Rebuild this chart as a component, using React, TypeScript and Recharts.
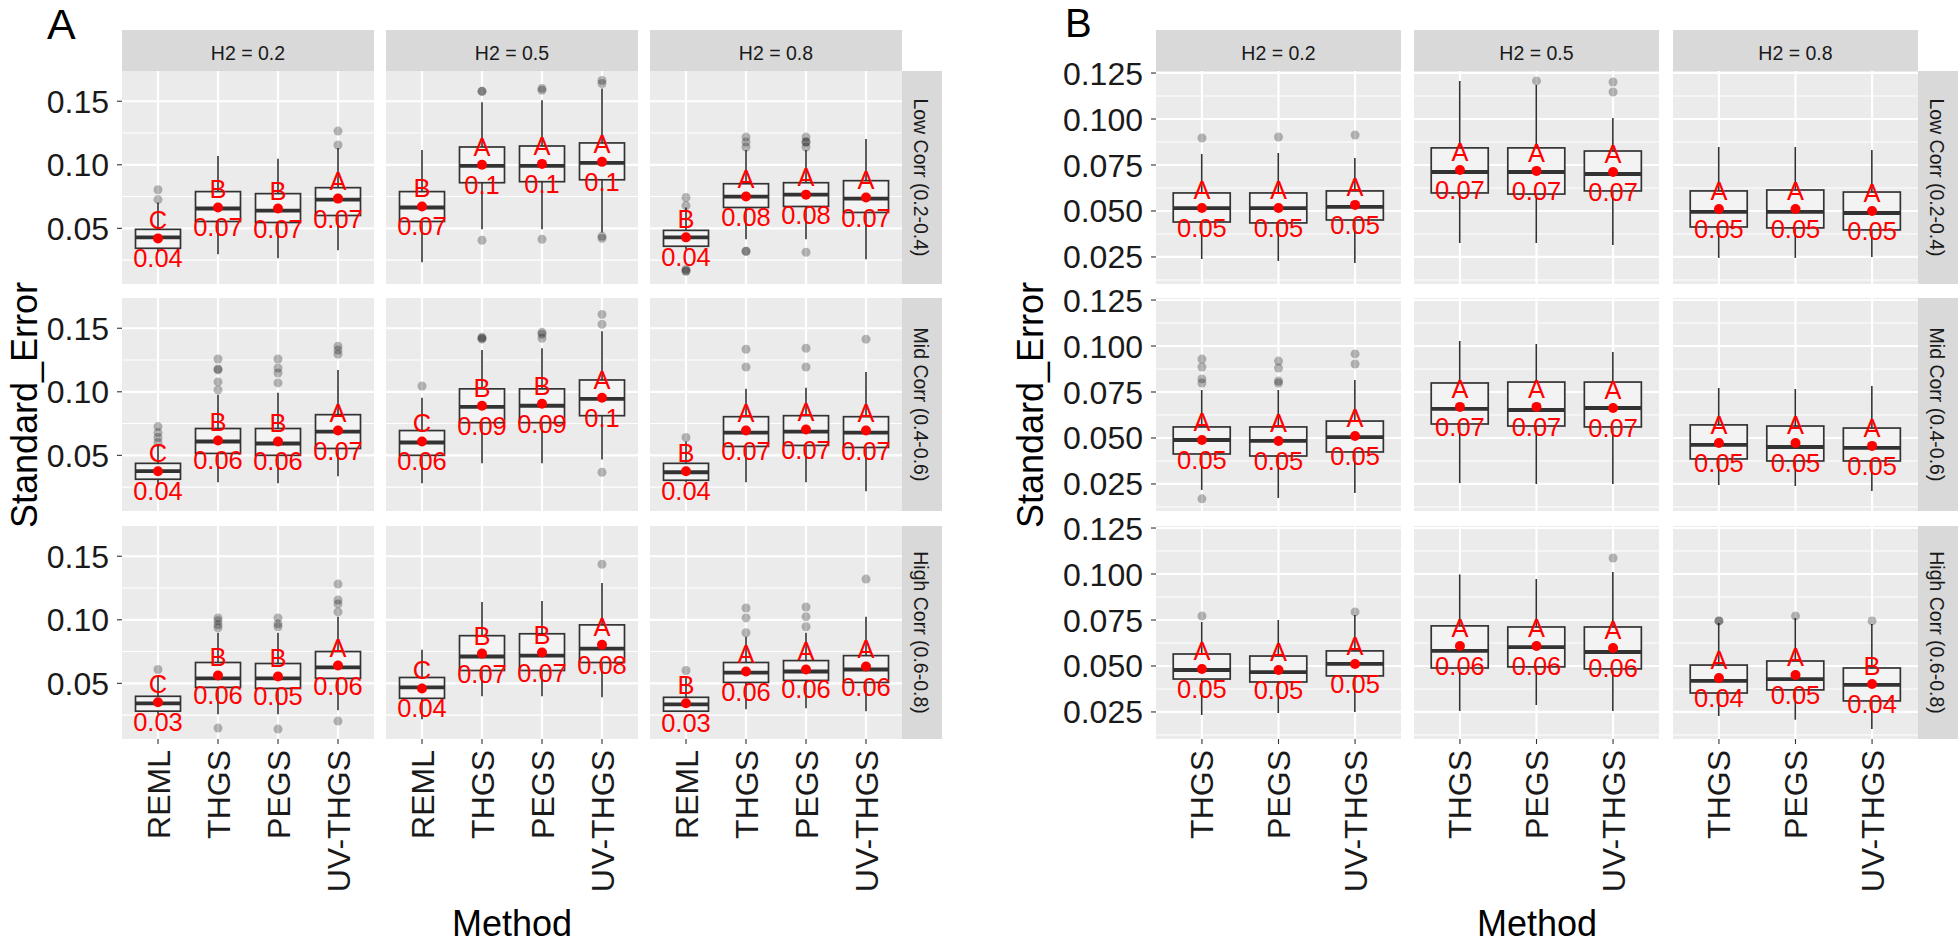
import React from 'react';
import {
  Bar,
  CartesianGrid,
  ComposedChart,
  ReferenceLine,
  Scatter,
  XAxis,
  YAxis
} from 'recharts';

const FONT = '"Liberation Sans", Arial, Helvetica, sans-serif';

// facets
const methodsA = ['REML', 'THGS', 'PEGS', 'UV-THGS'];
const methodsB = ['THGS', 'PEGS', 'UV-THGS'];
const heritability = ['H2 = 0.2', 'H2 = 0.5', 'H2 = 0.8'];
const correlation = ['Low Corr (0.2-0.4)', 'Mid Corr (0.4-0.6)', 'High Corr (0.6-0.8)'];

// axis breaks
const ticksA = [0.05, 0.1, 0.15];
const minorA = [0.025, 0.075, 0.125];
const ticksB = [0.025, 0.05, 0.075, 0.1, 0.125];
const minorB = [0.0125, 0.0375, 0.0625, 0.0875, 0.1125];
const domainA = [0.0062, 0.1738];
const domainB = [0.0103, 0.1261];

// panel order: Low, Mid, High corr rows; H2 0.2, 0.5, 0.8 columns
// ---- A ----
const lowerA = [
  [0.0312, 0.0297, 0.0265, 0.0328], [0.0234, 0.0492, 0.0492, 0.0468], [0.0335, 0.0414, 0.0414, 0.0257],
  [0.0273, 0.0289, 0.0281, 0.0336], [0.0281, 0.0437, 0.0437, 0.0468], [0.0289, 0.0289, 0.0289, 0.0218],
  [0.0257, 0.0257, 0.0257, 0.0289], [0.0218, 0.0398, 0.0398, 0.0390], [0.0273, 0.0296, 0.0304, 0.0281]
];
const q1A = [
  [0.0343, 0.0554, 0.0546, 0.0601], [0.0554, 0.0859, 0.0867, 0.0882], [0.0359, 0.0664, 0.0672, 0.0625],
  [0.0312, 0.0515, 0.0500, 0.0554], [0.0500, 0.0757, 0.0757, 0.0812], [0.0304, 0.0570, 0.0578, 0.0562],
  [0.0281, 0.0468, 0.0460, 0.0539], [0.0382, 0.0601, 0.0601, 0.0664], [0.0281, 0.0507, 0.0523, 0.0507]
];
const medianA = [
  [0.0429, 0.0656, 0.0640, 0.0726], [0.0664, 0.0992, 0.0992, 0.1015], [0.0429, 0.0750, 0.0765, 0.0734],
  [0.0375, 0.0609, 0.0593, 0.0687], [0.0601, 0.0882, 0.0890, 0.0945], [0.0367, 0.0679, 0.0687, 0.0679],
  [0.0343, 0.0539, 0.0539, 0.0625], [0.0468, 0.0711, 0.0718, 0.0773], [0.0335, 0.0585, 0.0593, 0.0609]
];
const q3A = [
  [0.0492, 0.0789, 0.0773, 0.0820], [0.0789, 0.1140, 0.1148, 0.1172], [0.0484, 0.0851, 0.0859, 0.0875],
  [0.0437, 0.0711, 0.0711, 0.0820], [0.0695, 0.1023, 0.1023, 0.1093], [0.0437, 0.0804, 0.0812, 0.0804],
  [0.0398, 0.0664, 0.0656, 0.0750], [0.0546, 0.0875, 0.0890, 0.0960], [0.0390, 0.0664, 0.0679, 0.0718]
];
const upperA = [
  [0.0703, 0.1070, 0.1047, 0.1133], [0.1117, 0.1492, 0.1507, 0.1601], [0.0664, 0.1117, 0.1117, 0.1203],
  [0.0586, 0.0976, 0.0992, 0.1171], [0.0953, 0.1328, 0.1343, 0.1476], [0.0609, 0.1023, 0.1031, 0.1156],
  [0.0554, 0.0898, 0.0898, 0.1023], [0.0765, 0.1140, 0.1148, 0.1289], [0.0554, 0.0867, 0.0898, 0.1023]
];
const meanA = [
  [0.0421, 0.0664, 0.0656, 0.0734], [0.0672, 0.1000, 0.1007, 0.1023], [0.0429, 0.0750, 0.0765, 0.0742],
  [0.0375, 0.0617, 0.0609, 0.0695], [0.0609, 0.0890, 0.0906, 0.0953], [0.0375, 0.0695, 0.0703, 0.0695],
  [0.0351, 0.0562, 0.0554, 0.0640], [0.0460, 0.0734, 0.0742, 0.0804], [0.0343, 0.0593, 0.0609, 0.0632]
];
const outliersA = [
  [[0.0804, 0.0726], [], [], [0.1265, 0.1156]],
  [[], [0.1578, 0.1578, 0.0406], [0.1601, 0.1586, 0.0414], [0.1664, 0.1640, 0.0437, 0.0421]],
  [[0.0742, 0.0679, 0.0179, 0.0164, 0.0164], [0.1218, 0.1179, 0.1140, 0.0320, 0.0320], [0.1218, 0.1179, 0.1179, 0.1140, 0.0312], []],
  [[0.0726, 0.0679, 0.0640, 0.0601], [0.1258, 0.1179, 0.1172, 0.1078, 0.1015], [0.1258, 0.1187, 0.1148, 0.1070], [0.1359, 0.1328, 0.1296]],
  [[0.1046], [0.1429, 0.1422, 0.1414], [0.1468, 0.1453, 0.1421], [0.1609, 0.1531, 0.0367]],
  [[0.0640], [0.1335, 0.1195], [0.1343, 0.1195], [0.1414]],
  [[0.0609], [0.1015, 0.0992, 0.0960, 0.0937, 0.0148], [0.1015, 0.0968, 0.0945, 0.0140], [0.1281, 0.1156, 0.1125, 0.1062, 0.0203]],
  [[], [], [], [0.1437]],
  [[0.0601], [0.1093, 0.1015, 0.0898], [0.1101, 0.1023, 0.0945], [0.1320]]
];
const lettersA = [
  ['C', 'B', 'B', 'A'], ['B', 'A', 'A', 'A'], ['B', 'A', 'A', 'A'],
  ['C', 'B', 'B', 'A'], ['C', 'B', 'B', 'A'], ['B', 'A', 'A', 'A'],
  ['C', 'B', 'B', 'A'], ['C', 'B', 'B', 'A'], ['B', 'A', 'A', 'A']
];
const meanTextA = [
  ['0.04', '0.07', '0.07', '0.07'], ['0.07', '0.1', '0.1', '0.1'], ['0.04', '0.08', '0.08', '0.07'],
  ['0.04', '0.06', '0.06', '0.07'], ['0.06', '0.09', '0.09', '0.1'], ['0.04', '0.07', '0.07', '0.07'],
  ['0.03', '0.06', '0.05', '0.06'], ['0.04', '0.07', '0.07', '0.08'], ['0.03', '0.06', '0.06', '0.06']
];

// ---- B ----
const lowerB = [
  [0.0239, 0.0228, 0.0217], [0.0326, 0.0326, 0.0315], [0.0245, 0.0245, 0.0250],
  [0.0217, 0.0174, 0.0201], [0.0255, 0.0250, 0.0250], [0.0245, 0.0239, 0.0212],
  [0.0234, 0.0245, 0.0250], [0.0255, 0.0288, 0.0255], [0.0228, 0.0207, 0.0158]
];
const q1B = [
  [0.0440, 0.0435, 0.0451], [0.0598, 0.0592, 0.0609], [0.0413, 0.0408, 0.0397],
  [0.0413, 0.0402, 0.0424], [0.0576, 0.0565, 0.0560], [0.0386, 0.0375, 0.0375],
  [0.0429, 0.0413, 0.0446], [0.0489, 0.0495, 0.0484], [0.0353, 0.0370, 0.0310]
];
const medianB = [
  [0.0516, 0.0516, 0.0522], [0.0712, 0.0712, 0.0701], [0.0495, 0.0495, 0.0489],
  [0.0489, 0.0484, 0.0505], [0.0658, 0.0652, 0.0663], [0.0462, 0.0451, 0.0446],
  [0.0478, 0.0467, 0.0511], [0.0582, 0.0603, 0.0576], [0.0419, 0.0429, 0.0397]
];
const q3B = [
  [0.0598, 0.0598, 0.0609], [0.0843, 0.0843, 0.0826], [0.0609, 0.0614, 0.0603],
  [0.0560, 0.0560, 0.0592], [0.0799, 0.0804, 0.0804], [0.0571, 0.0565, 0.0554],
  [0.0565, 0.0554, 0.0582], [0.0718, 0.0712, 0.0712], [0.0505, 0.0527, 0.0489]
];
const upperB = [
  [0.0810, 0.0815, 0.0788], [0.1207, 0.1185, 0.1005], [0.0848, 0.0848, 0.0832],
  [0.0761, 0.0761, 0.0815], [0.1027, 0.1011, 0.0967], [0.0772, 0.0766, 0.0783],
  [0.0739, 0.0750, 0.0777], [0.0997, 0.0973, 0.1011], [0.0734, 0.0761, 0.0728]
];
const meanB = [
  [0.0516, 0.0516, 0.0533], [0.0723, 0.0718, 0.0712], [0.0511, 0.0511, 0.0500],
  [0.0489, 0.0484, 0.0511], [0.0669, 0.0669, 0.0663], [0.0473, 0.0473, 0.0457],
  [0.0484, 0.0478, 0.0511], [0.0609, 0.0609, 0.0598], [0.0435, 0.0451, 0.0402]
];
const outliersB = [
  [[0.0897], [0.0902], [0.0913]],
  [[], [0.1207], [0.1201, 0.1147]],
  [[], [], []],
  [[0.0929, 0.0886, 0.0821, 0.0799, 0.0169], [0.0918, 0.0880, 0.0810, 0.0799], [0.0957, 0.0902]],
  [[], [], []],
  [[], [], []],
  [[0.0772], [], [0.0794]],
  [[], [], [0.1087]],
  [[0.0745, 0.0745], [0.0772], [0.0745]]
];
const lettersB = [
  ['A', 'A', 'A'], ['A', 'A', 'A'], ['A', 'A', 'A'],
  ['A', 'A', 'A'], ['A', 'A', 'A'], ['A', 'A', 'A'],
  ['A', 'A', 'A'], ['A', 'A', 'A'], ['A', 'A', 'B']
];
const meanTextB = [
  ['0.05', '0.05', '0.05'], ['0.07', '0.07', '0.07'], ['0.05', '0.05', '0.05'],
  ['0.05', '0.05', '0.05'], ['0.07', '0.07', '0.07'], ['0.05', '0.05', '0.05'],
  ['0.05', '0.05', '0.05'], ['0.06', '0.06', '0.06'], ['0.04', '0.05', '0.04']
];

const OUT_KEYS = ['o0', 'o1', 'o2', 'o3', 'o4'];

// layout (px)
const ROW_Y = [71, 298, 526];
const PANEL_H = 213;
const TOP_PAD = 22; // room above a panel so the top tick label is not clipped
const X_AXIS_H = 175;
const colA = [122, 386, 650];
const colB = [1156, 1414, 1673];
const WA = 252;
const WB = 245;

const buildRows = (methods: string[], p: number, lower: number[][], q1: number[][], med: number[][],
  q3: number[][], upper: number[][], mean: number[][], outs: number[][][], letters: string[][], txt: string[][]) =>
  methods.map((m, i) => {
    const row: any = {
      method: m,
      range: [lower[p][i], upper[p][i]],
      lo: lower[p][i],
      hi: upper[p][i],
      q1: q1[p][i],
      med: med[p][i],
      q3: q3[p][i],
      mean: mean[p][i],
      letter: letters[p][i],
      meanText: txt[p][i]
    };
    OUT_KEYS.forEach((k, j) => {
      row[k] = outs[p][i][j] !== undefined ? outs[p][i][j] : null;
    });
    return row;
  });

const BoxShape = (props: any) => {
  const { x, y, width, height, payload } = props;
  if (!payload || x == null || y == null) return <g />;
  const top = Math.min(y, y + height);
  const h = Math.abs(height);
  const span = payload.hi - payload.lo;
  const py = (v: number) => top + ((payload.hi - v) / span) * h;
  const cx = x + width / 2;
  const bTop = py(payload.q3);
  const bBot = py(payload.q1);
  const mid = py(payload.med);
  return (
    <g>
      <line x1={cx} x2={cx} y1={top} y2={top + h} stroke="#333333" strokeWidth={1.6} />
      <rect x={x} y={bTop} width={width} height={bBot - bTop} fill="#F3F3F3" stroke="#333333" strokeWidth={1.7} />
      <line x1={x} x2={x + width} y1={mid} y2={mid} stroke="#333333" strokeWidth={3.8} />
    </g>
  );
};

const outlierShape = (key: string) => (props: any) => {
  const { cx, cy, payload } = props;
  if (!payload || payload[key] == null || cx == null || cy == null || isNaN(cy)) return <g />;
  return <circle cx={cx} cy={cy} r={4.5} fill="#000000" fillOpacity={0.27} />;
};

const MeanShape = (props: any) => {
  const { cx, cy, payload } = props;
  if (cx == null || cy == null || isNaN(cy)) return <g />;
  return (
    <g>
      <circle cx={cx} cy={cy} r={5} fill="#FF0000" />
      <text x={cx} y={cy - 9} textAnchor="middle" fill="#FF0000" fontSize={25.5} fontFamily={FONT}>{payload.letter}</text>
      <text x={cx} y={cy + 29} textAnchor="middle" fill="#FF0000" fontSize={25.5} fontFamily={FONT}>{payload.meanText}</text>
    </g>
  );
};

const XTick = (props: any) => {
  const { x, y, payload } = props;
  return (
    <text x={x} y={y} transform={`rotate(-90, ${x}, ${y})`} textAnchor="end" dy="0.36em"
      fontSize={32} fill="#1A1A1A" fontFamily={FONT}>{payload.value}</text>
  );
};

interface PanelProps {
  data: any[];
  x: number;
  y: number;
  w: number;
  showY: boolean;
  showX: boolean;
  ticks: number[];
  minor: number[];
  domain: number[];
  digits: number;
  pad: number;
  yW: number;
}

const Panel = ({ data, x, y, w, showY, showX, ticks, minor, domain, digits, pad, yW }: PanelProps) => {
  const left = showY ? yW : 0;
  return (
    <div style={{ position: 'absolute', left: x - left, top: y - TOP_PAD }}>
      <ComposedChart width={w + left} height={TOP_PAD + PANEL_H + (showX ? X_AXIS_H : 0)} data={data}
        margin={{ top: TOP_PAD, right: 0, bottom: 0, left: 0 }} barCategoryGap="12.5%">
        <CartesianGrid horizontal={false} vertical={false} fill="#EBEBEB" stroke="none" />
        {minor.map(v => (
          <ReferenceLine key={'mn' + v} y={v} stroke="#FFFFFF" strokeWidth={1.1} zIndex={-50} />
        ))}
        {ticks.map(v => (
          <ReferenceLine key={'mj' + v} y={v} stroke="#FFFFFF" strokeWidth={2.2} zIndex={-50} />
        ))}
        {data.map(d => (
          <ReferenceLine key={'v' + d.method} x={d.method} stroke="#FFFFFF" strokeWidth={2.2} zIndex={-50} />
        ))}
        <XAxis dataKey="method" type="category" hide={!showX} height={X_AXIS_H} interval={0}
          padding={{ left: pad, right: pad }} axisLine={false} tickSize={5} tickMargin={6}
          tickLine={{ stroke: '#333333', strokeWidth: 1.1 }} tick={<XTick />} />
        <YAxis type="number" domain={domain} allowDataOverflow hide={!showY} width={yW} ticks={ticks} interval={0}
          axisLine={false} tickSize={5} tickMargin={8} tickLine={{ stroke: '#333333', strokeWidth: 1.1 }}
          tick={(p: any) => (
            <text x={p.x} y={p.y} textAnchor="end" dy="0.36em" fontSize={32} fill="#1A1A1A" fontFamily={FONT}>
              {Number(p.payload.value).toFixed(digits)}
            </text>
          )} />
        <Bar dataKey="range" shape={<BoxShape />} isAnimationActive={false} />
        {OUT_KEYS.map(k => (
          <Scatter key={k} dataKey={k} shape={outlierShape(k)} isAnimationActive={false} />
        ))}
        <Scatter dataKey="mean" shape={MeanShape} isAnimationActive={false} />
      </ComposedChart>
    </div>
  );
};

const Strips = ({ cols, w, rightX }: { cols: number[], w: number, rightX: number }) => (
  <g>
    {cols.map((cx, c) => (
      <g key={'t' + c}>
        <rect x={cx} y={30} width={w} height={41} fill="#D9D9D9" />
        <text x={cx + w / 2} y={60} textAnchor="middle" fontSize={19.5} fill="#1A1A1A" fontFamily={FONT}>{heritability[c]}</text>
      </g>
    ))}
    {ROW_Y.map((ry, r) => (
      <g key={'r' + r}>
        <rect x={rightX} y={ry} width={40} height={PANEL_H} fill="#D9D9D9" />
        <text transform={`translate(${rightX + 12}, ${ry + PANEL_H / 2}) rotate(90)`} textAnchor="middle"
          fontSize={19.5} fill="#1A1A1A" fontFamily={FONT}>{correlation[r]}</text>
      </g>
    ))}
  </g>
);

export default function App() {
  const panels: React.ReactNode[] = [];
  for (let r = 0; r < 3; r++) {
    for (let c = 0; c < 3; c++) {
      const p = r * 3 + c;
      panels.push(
        <Panel key={'A' + p}
          data={buildRows(methodsA, p, lowerA, q1A, medianA, q3A, upperA, meanA, outliersA, lettersA, meanTextA)}
          x={colA[c]} y={ROW_Y[r]} w={WA} showY={c === 0} showX={r === 2}
          ticks={ticksA} minor={minorA} domain={domainA} digits={2} pad={WA / 42} yW={80} />
      );
      panels.push(
        <Panel key={'B' + p}
          data={buildRows(methodsB, p, lowerB, q1B, medianB, q3B, upperB, meanB, outliersB, lettersB, meanTextB)}
          x={colB[c]} y={ROW_Y[r]} w={WB} showY={c === 0} showX={r === 2}
          ticks={ticksB} minor={minorB} domain={domainB} digits={3} pad={WB / 32} yW={100} />
      );
    }
  }

  return (
    <div style={{ position: 'absolute', left: 0, top: 0, width: 1958, height: 946, background: '#FFFFFF', overflow: 'hidden' }}>
      <svg width={1958} height={946} style={{ position: 'absolute', left: 0, top: 0 }}>
        <text x={47} y={39} fontSize={43} fill="#000000" fontFamily={FONT}>A</text>
        <text x={1065} y={37} fontSize={40} fill="#000000" fontFamily={FONT}>B</text>
        <Strips cols={colA} w={WA} rightX={902} />
        <Strips cols={colB} w={WB} rightX={1918} />
        <text transform="translate(37, 405) rotate(-90)" textAnchor="middle" fontSize={36} fill="#000000" fontFamily={FONT}>Standard_Error</text>
        <text transform="translate(1043, 405) rotate(-90)" textAnchor="middle" fontSize={36} fill="#000000" fontFamily={FONT}>Standard_Error</text>
        <text x={512} y={936} textAnchor="middle" fontSize={36} fill="#000000" fontFamily={FONT}>Method</text>
        <text x={1537} y={936} textAnchor="middle" fontSize={36} fill="#000000" fontFamily={FONT}>Method</text>
      </svg>
      {panels}
    </div>
  );
}
